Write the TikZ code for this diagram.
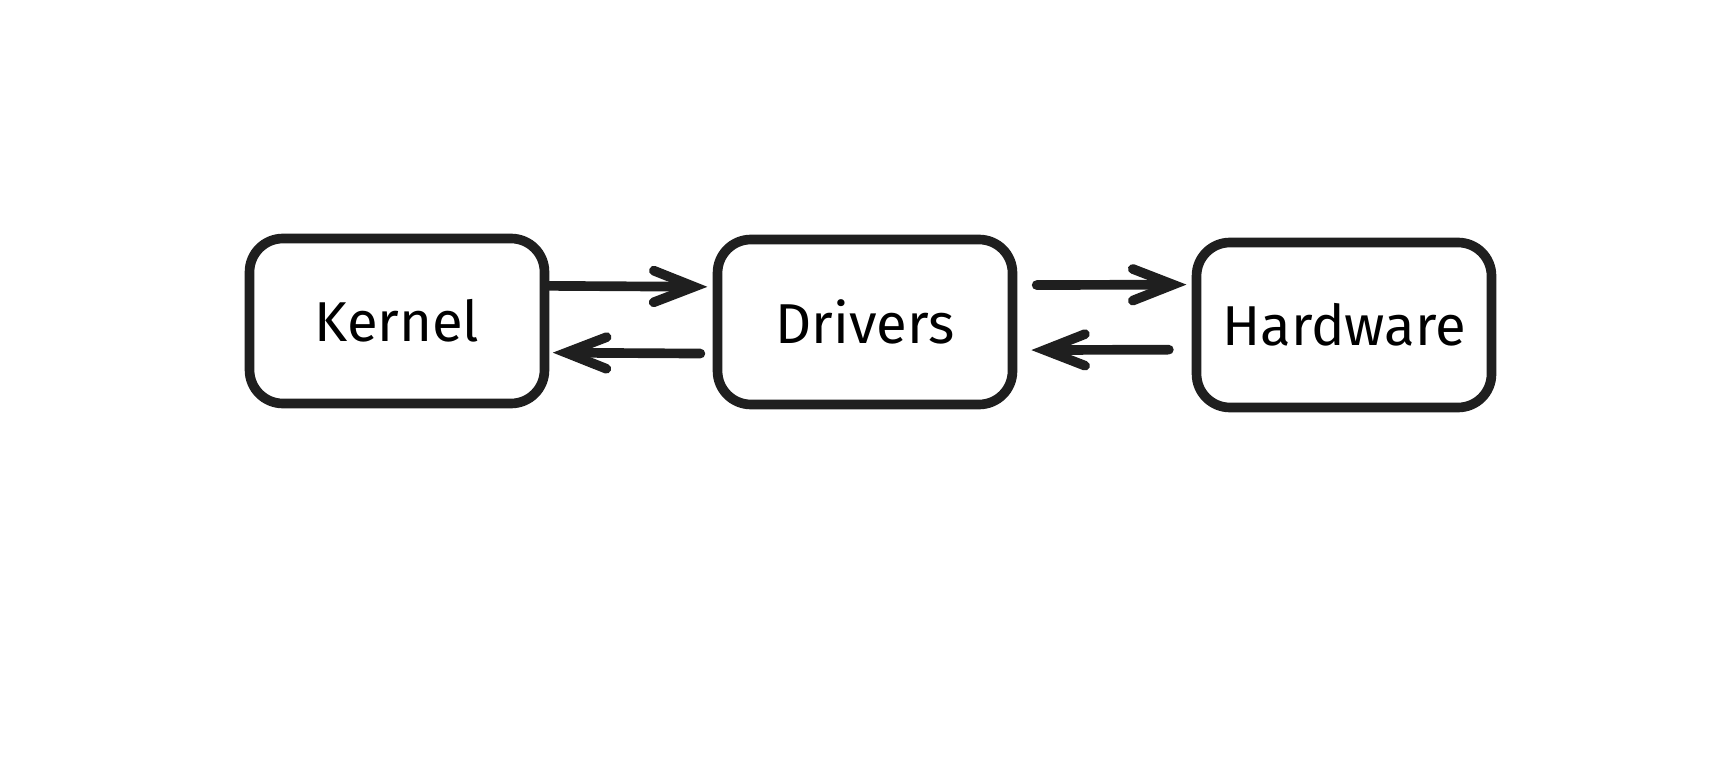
\documentclass[tikz,border=0pt]{standalone}
\usepackage{fontspec}
\setmainfont{Fira Sans}
\usetikzlibrary{arrows.meta}

\begin{document}
\begin{tikzpicture}[x=0.02cm, y=-0.02cm, >={Straight Barb[length=23pt,width=18pt,line cap=round]},
  every node/.style={font=\fontsize{32}{36}\selectfont},
  block/.style={draw=black!88, line width=5.5pt, rounded corners=19pt, minimum width=5.9cm, minimum height=3.3cm, inner sep=0pt},
  link/.style={->, draw=black!88, line width=5.5pt, line cap=round}]
  \useasboundingbox (0,0) rectangle (1736,780);
  \node[block] (kernel)   at (397,321)  {Kernel};
  \node[block] (drivers)  at (865,322)  {Drivers};
  \node[block] (hardware) at (1344,325) {Hardware};
  % kernel <-> drivers
  \draw[link, shorten >=3pt] ([yshift=20pt]kernel.east) -- ([yshift=20pt]drivers.west);
  \draw[link, shorten <=7pt, shorten >=2pt] ([yshift=-18pt]drivers.west) -- ([yshift=-18pt]kernel.east);
  % drivers <-> hardware
  \draw[link, shorten <=11pt, shorten >=3pt] ([yshift=21pt]drivers.east) -- ([yshift=23pt]hardware.west);
  \draw[link, shorten <=13pt, shorten >=8pt] ([yshift=-14pt]hardware.west) -- ([yshift=-16pt]drivers.east);
\end{tikzpicture}
\end{document}
